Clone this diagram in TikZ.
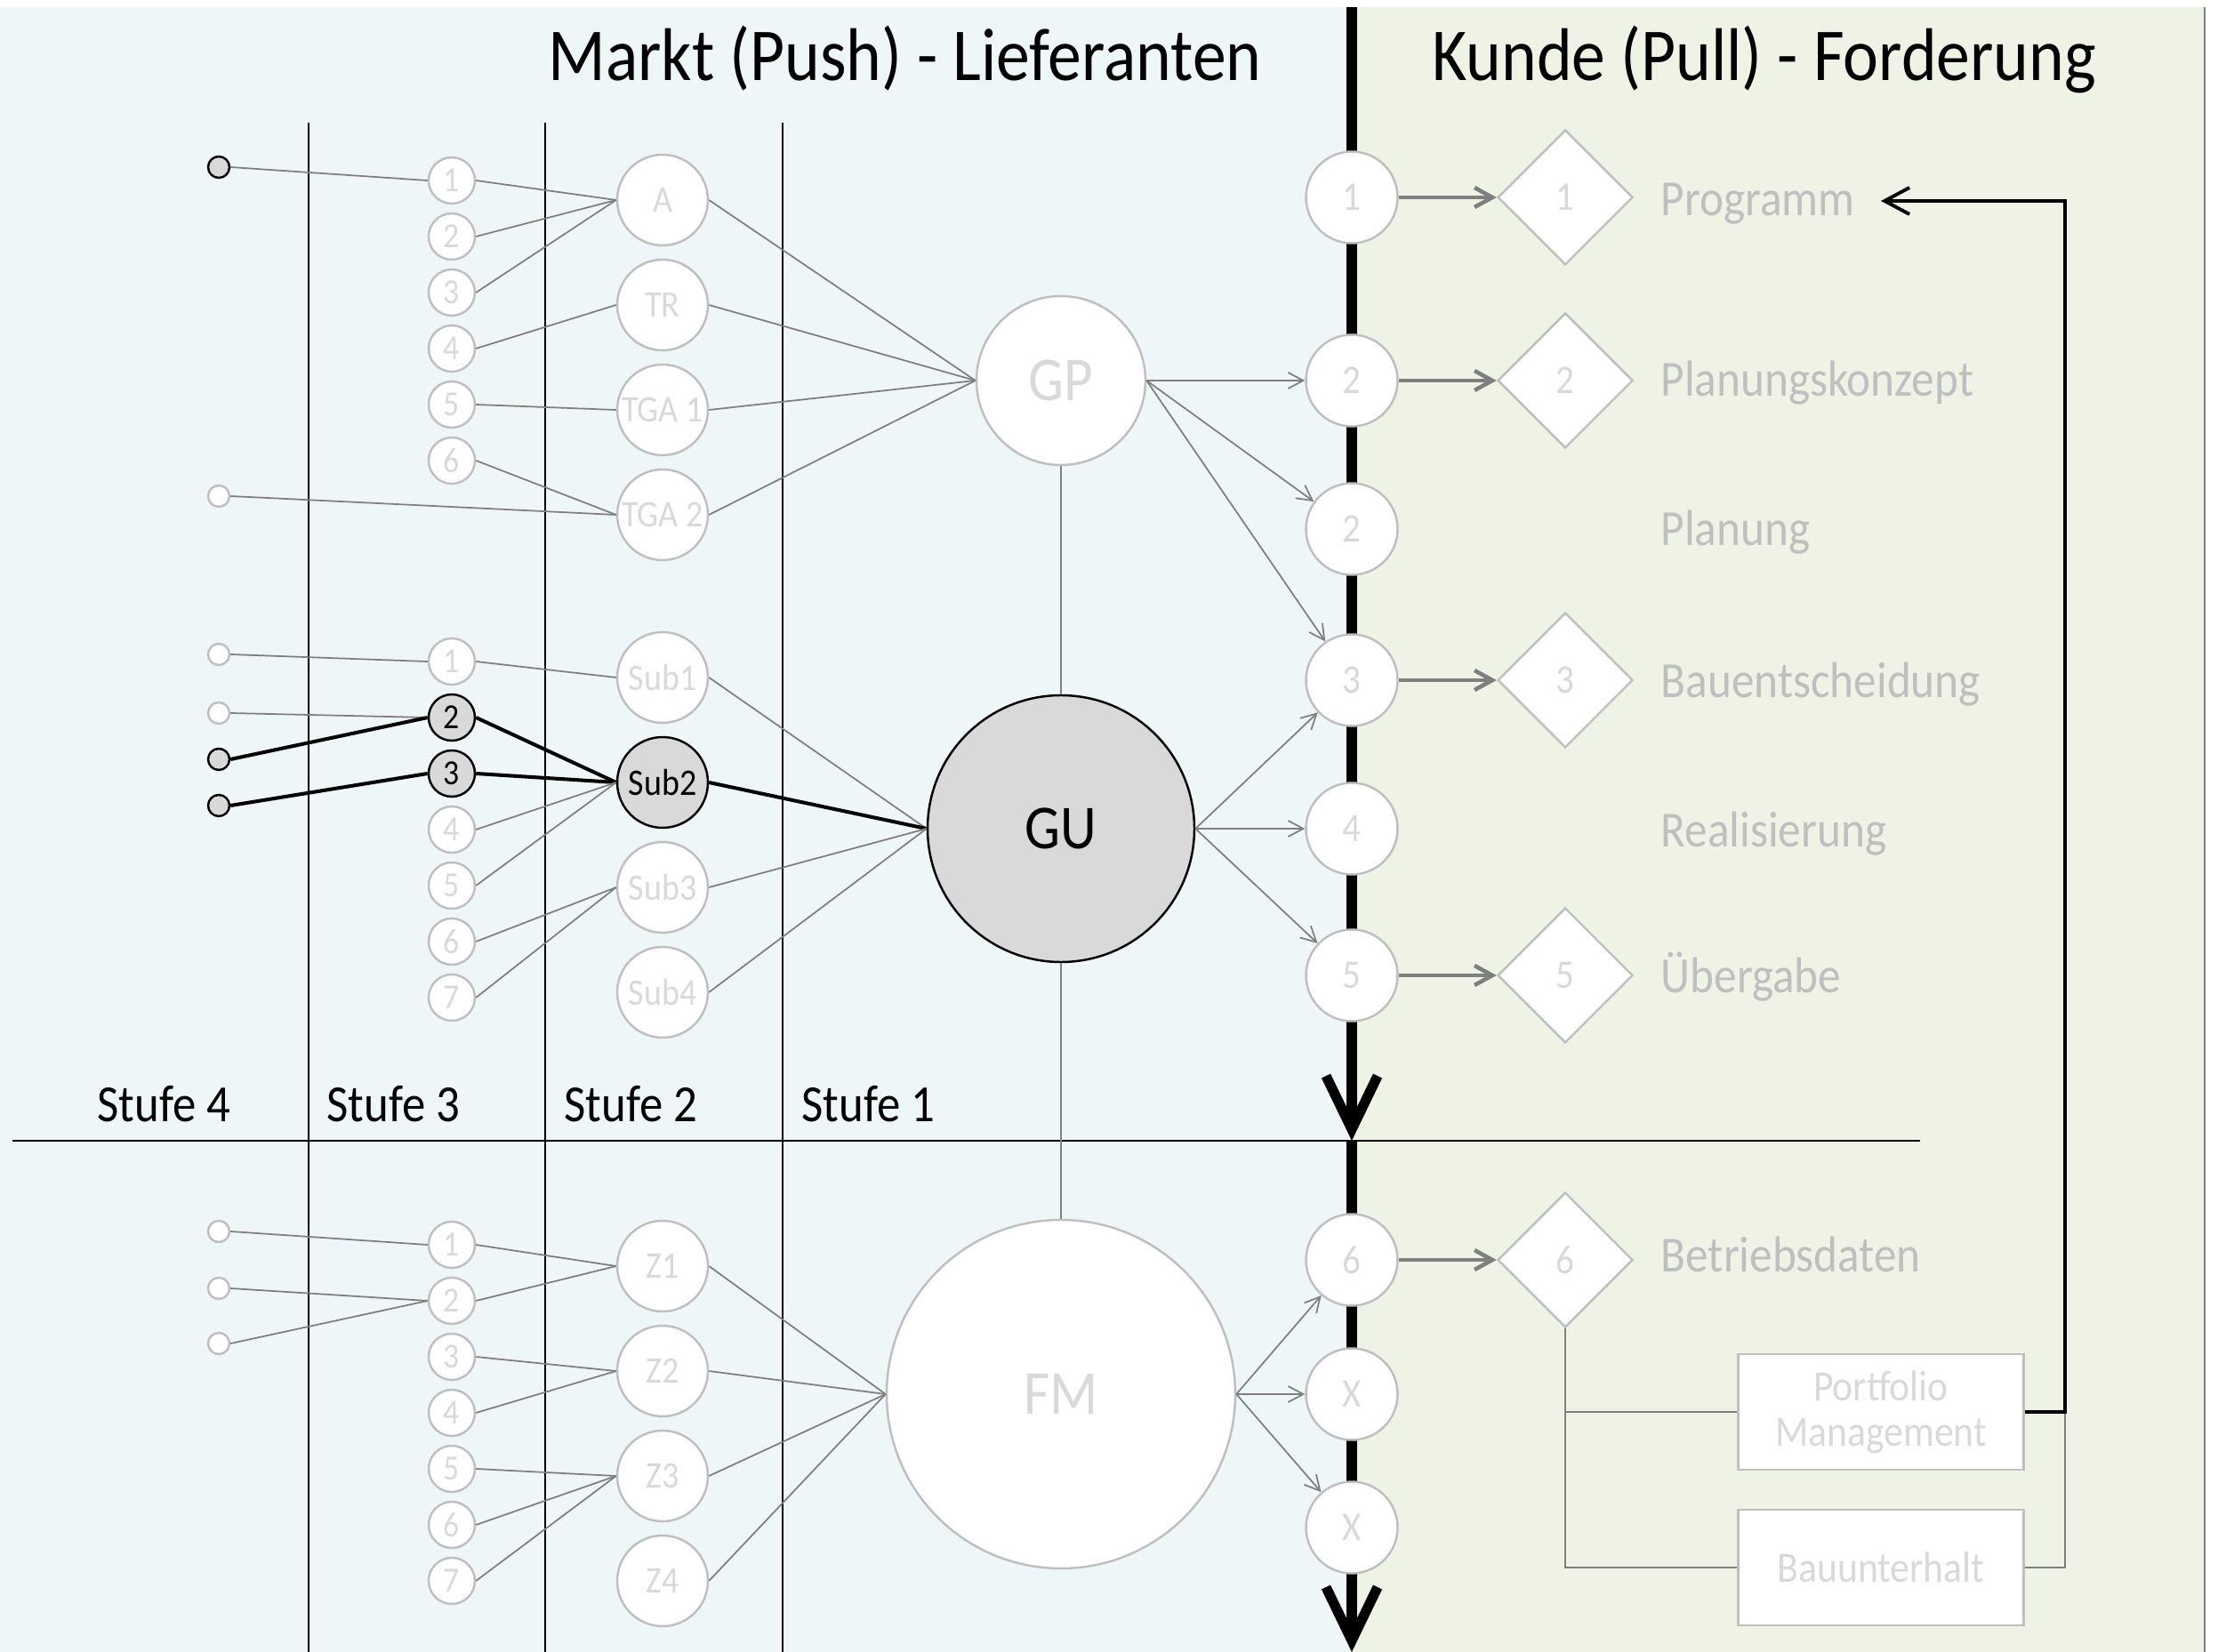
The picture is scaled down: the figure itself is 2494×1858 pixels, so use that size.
\documentclass[tikz,border=0pt]{standalone}
\usepackage{fontspec}
\setmainfont{Carlito}[FakeStretch=0.9]
\usetikzlibrary{arrows.meta}
\usetikzlibrary{shapes.geometric}
\definecolor{bgblue}{HTML}{EEF6F8}
\definecolor{bggreen}{HTML}{EFF3E6}
\definecolor{rimgrey}{HTML}{BFBFBF}
\definecolor{linegrey}{HTML}{7F7F7F}
\definecolor{textgrey}{HTML}{D9D9D9}
\definecolor{fillgrey}{HTML}{D9D9D9}
\tikzset{
	lightstyle/.style={circle, draw=rimgrey, line width=0.7pt, fill=white, text=textgrey, inner sep=0pt},
	darkstyle/.style={circle, draw=black, line width=0.7pt, fill=fillgrey, text=black, inner sep=0pt},
	diastyle/.style={diamond, draw=rimgrey, line width=0.7pt, fill=white, text=textgrey, inner sep=0pt,
		minimum width=15.2mm, minimum height=15.2mm, font=\fontsize{13}{15}\selectfont},
	boxstyle/.style={rectangle, draw=rimgrey, line width=0.8pt, fill=white, text=textgrey,
		minimum width=32.1mm, minimum height=13mm, align=center, font=\fontsize{13.8}{14.5}\selectfont},
	smallnum/.style={font=\fontsize{11.3}{13}\selectfont},
	midlabel/.style={font=\fontsize{12}{14}\selectfont},
	rightnum/.style={font=\fontsize{13}{15}\selectfont},
	biglabel/.style={font=\fontsize{20}{24}\selectfont},
	titlestyle/.style={inner sep=0pt, font=\fontsize{23.9}{28}\selectfont},
	stufestyle/.style={inner sep=0pt, font=\fontsize{16.7}{20}\selectfont},
	phasestyle/.style={inner sep=0pt, text=rimgrey, font=\fontsize{16.2}{19}\selectfont},
	greylink/.style={draw=linegrey, line width=0.5pt},
	blacklink/.style={draw=black, line width=1.15pt},
	flow/.style={draw=linegrey, line width=0.5pt, -{Straight Barb[length=1.7mm, width=1.8mm]}},
	thickflow/.style={draw=linegrey, line width=1.3pt, -{Straight Barb[length=2mm, width=2.2mm]}},
	axisline/.style={draw=black, line width=3.2pt, -{Straight Barb[length=6mm, width=5.8mm]}},
	feedback/.style={draw=black, line width=1.1pt, -{Straight Barb[length=2.8mm, width=3mm]}},
	stageline/.style={draw=black, line width=0.45pt}
}

\begin{document}
\begin{tikzpicture}[x=0.1mm, y=-0.1mm]

\def\xfour{246}
\def\xthree{508}
\def\xtwo{745}
\def\xone{1193}
\def\xaxis{1520}
\def\xdia{1760}
\def\xtext{1867}
\def\ydist{63}
\def\zdist{118}

\useasboundingbox (0, 0) rectangle (2494, 1858);

% Markt and Kunde areas
\fill[bgblue] (0, 8) rectangle (\xaxis, 1858);
\fill[bggreen] (\xaxis, 8) rectangle (2479, 1858);
\draw[linegrey, line width=0.4pt] (2479, 8) -- (2479, 1858);

\draw[stageline] (347, 138) -- (347, 1858);
\draw[stageline] (613, 138) -- (613, 1858);
\draw[stageline] (880, 138) -- (880, 1858);
\draw[line width=0.55pt] (14, 1283) -- (2159, 1283);

\coordinate (axtop) at (\xaxis, 8);
\coordinate (axmid) at (\xaxis, 1283);
\coordinate (axbot) at (\xaxis, 1858);
\draw[axisline] (axtop) -- (axmid);
\draw[axisline] (axmid) -- (axbot);

\node[titlestyle, anchor=base west] (markt) at (616, 91) {Markt (Push) - Lieferanten};
\node[titlestyle, anchor=base west] (kunde) at (1610, 91) {Kunde (Pull) - Forderung};

\node[stufestyle, anchor=base west] (st4) at (109, 1261) {Stufe 4};
\node[stufestyle, anchor=base west] (st3) at (367, 1261) {Stufe 3};
\node[stufestyle, anchor=base west] (st2) at (634, 1261) {Stufe 2};
\node[stufestyle, anchor=base west] (st1) at (901, 1261) {Stufe 1};

% Planer
\node[darkstyle, minimum size=2.4mm] (ta) at (\xfour, 188) {};
\node[lightstyle, minimum size=2.4mm] (tb) at (\xfour, 558) {};

\node[lightstyle, smallnum, minimum size=5.2mm] (a1) at (\xthree, 203 + 0 * \ydist) {1};
\node[lightstyle, smallnum, minimum size=5.2mm] (a2) at (\xthree, 203 + 1 * \ydist) {2};
\node[lightstyle, smallnum, minimum size=5.2mm] (a3) at (\xthree, 203 + 2 * \ydist) {3};
\node[lightstyle, smallnum, minimum size=5.2mm] (a4) at (\xthree, 203 + 3 * \ydist) {4};
\node[lightstyle, smallnum, minimum size=5.2mm] (a5) at (\xthree, 203 + 4 * \ydist) {5};
\node[lightstyle, smallnum, minimum size=5.2mm] (a6) at (\xthree, 203 + 5 * \ydist) {6};

\node[lightstyle, midlabel, minimum size=10.2mm] (arch) at (\xtwo, 225 + 0 * \zdist) {A};
\node[lightstyle, midlabel, minimum size=10.2mm] (tr)   at (\xtwo, 225 + 1 * \zdist) {TR};
\node[lightstyle, midlabel, minimum size=10.2mm] (tga1) at (\xtwo, 225 + 2 * \zdist) {TGA 1};
\node[lightstyle, midlabel, minimum size=10.2mm] (tga2) at (\xtwo, 225 + 3 * \zdist) {TGA 2};

\node[lightstyle, biglabel, minimum size=19mm] (gp) at (\xone, 428) {GP};

% Unternehmer
\node[lightstyle, minimum size=2.4mm] (tc) at (\xfour, 736) {};
\node[lightstyle, minimum size=2.4mm] (td) at (\xfour, 802) {};
\node[darkstyle, minimum size=2.4mm]  (te) at (\xfour, 854) {};
\node[darkstyle, minimum size=2.4mm]  (tf) at (\xfour, 906) {};

\node[lightstyle, smallnum, minimum size=5.2mm] (b1) at (\xthree, 744 + 0 * \ydist) {1};
\node[darkstyle, smallnum, minimum size=5.2mm]  (b2) at (\xthree, 744 + 1 * \ydist) {2};
\node[darkstyle, smallnum, minimum size=5.2mm]  (b3) at (\xthree, 744 + 2 * \ydist) {3};
\node[lightstyle, smallnum, minimum size=5.2mm] (b4) at (\xthree, 744 + 3 * \ydist) {4};
\node[lightstyle, smallnum, minimum size=5.2mm] (b5) at (\xthree, 744 + 4 * \ydist) {5};
\node[lightstyle, smallnum, minimum size=5.2mm] (b6) at (\xthree, 744 + 5 * \ydist) {6};
\node[lightstyle, smallnum, minimum size=5.2mm] (b7) at (\xthree, 744 + 6 * \ydist) {7};

\node[lightstyle, midlabel, minimum size=10.2mm] (sub1) at (\xtwo, 762 + 0 * \zdist) {Sub1};
\node[darkstyle, midlabel, minimum size=10.2mm]  (sub2) at (\xtwo, 762 + 1 * \zdist) {Sub2};
\node[lightstyle, midlabel, minimum size=10.2mm] (sub3) at (\xtwo, 762 + 2 * \zdist) {Sub3};
\node[lightstyle, midlabel, minimum size=10.2mm] (sub4) at (\xtwo, 762 + 3 * \zdist) {Sub4};

\node[darkstyle, biglabel, minimum size=30mm] (gu) at (\xone, 932) {GU};

% Betrieb
\node[lightstyle, minimum size=2.4mm] (tg) at (\xfour, 1385) {};
\node[lightstyle, minimum size=2.4mm] (th) at (\xfour, 1449) {};
\node[lightstyle, minimum size=2.4mm] (ti) at (\xfour, 1511) {};

\node[lightstyle, smallnum, minimum size=5.2mm] (c1) at (\xthree, 1400 + 0 * \ydist) {1};
\node[lightstyle, smallnum, minimum size=5.2mm] (c2) at (\xthree, 1400 + 1 * \ydist) {2};
\node[lightstyle, smallnum, minimum size=5.2mm] (c3) at (\xthree, 1400 + 2 * \ydist) {3};
\node[lightstyle, smallnum, minimum size=5.2mm] (c4) at (\xthree, 1400 + 3 * \ydist) {4};
\node[lightstyle, smallnum, minimum size=5.2mm] (c5) at (\xthree, 1400 + 4 * \ydist) {5};
\node[lightstyle, smallnum, minimum size=5.2mm] (c6) at (\xthree, 1400 + 5 * \ydist) {6};
\node[lightstyle, smallnum, minimum size=5.2mm] (c7) at (\xthree, 1400 + 6 * \ydist) {7};

\node[lightstyle, midlabel, minimum size=10.2mm] (z1) at (\xtwo, 1424 + 0 * \zdist) {Z1};
\node[lightstyle, midlabel, minimum size=10.2mm] (z2) at (\xtwo, 1424 + 1 * \zdist) {Z2};
\node[lightstyle, midlabel, minimum size=10.2mm] (z3) at (\xtwo, 1424 + 2 * \zdist) {Z3};
\node[lightstyle, midlabel, minimum size=10.2mm] (z4) at (\xtwo, 1424 + 3 * \zdist) {Z4};

\node[lightstyle, biglabel, minimum size=39.2mm] (fm) at (\xone, 1568) {FM};

% Kunde
\node[lightstyle, rightnum, minimum size=10.3mm] (k1)  at (\xaxis, 222)  {1};
\node[lightstyle, rightnum, minimum size=10.3mm] (k2)  at (\xaxis, 428)  {2};
\node[lightstyle, rightnum, minimum size=10.3mm] (k2b) at (\xaxis, 595)  {2};
\node[lightstyle, rightnum, minimum size=10.3mm] (k3)  at (\xaxis, 765)  {3};
\node[lightstyle, rightnum, minimum size=10.3mm] (k4)  at (\xaxis, 932)  {4};
\node[lightstyle, rightnum, minimum size=10.3mm] (k5)  at (\xaxis, 1097) {5};
\node[lightstyle, rightnum, minimum size=10.3mm] (k6)  at (\xaxis, 1417) {6};
\node[lightstyle, rightnum, minimum size=10.3mm] (kx1) at (\xaxis, 1568) {X};
\node[lightstyle, rightnum, minimum size=10.3mm] (kx2) at (\xaxis, 1718) {X};

\node[diastyle] (d1) at (\xdia, 222)  {1};
\node[diastyle] (d2) at (\xdia, 428)  {2};
\node[diastyle] (d3) at (\xdia, 765)  {3};
\node[diastyle] (d5) at (\xdia, 1097) {5};
\node[diastyle] (d6) at (\xdia, 1417) {6};

\node[phasestyle, anchor=base west] (prog) at (\xtext, 243)  {Programm};
\node[phasestyle, anchor=base west] (konz) at (\xtext, 446)  {Planungskonzept};
\node[phasestyle, anchor=base west] (plan) at (\xtext, 614)  {Planung};
\node[phasestyle, anchor=base west] (baue) at (\xtext, 785)  {Bauentscheidung};
\node[phasestyle, anchor=base west] (real) at (\xtext, 952)  {Realisierung};
\node[phasestyle, anchor=base west] (uebg) at (\xtext, 1116) {Übergabe};
\node[phasestyle, anchor=base west] (betr) at (\xtext, 1430) {Betriebsdaten};

\node[boxstyle] (pm) at (2115, 1588) {Portfolio\\Management};
\node[boxstyle] (bu) at (2115, 1763) {Bauunterhalt};

\coordinate (fbx) at (2322, 226);
\coordinate (fbend) at (2115, 226);

\draw[greylink] (ta.east)--(a1.west);
\draw[greylink] (a1.east)--(arch.west);
\draw[greylink] (a2.east)--(arch.west);
\draw[greylink] (a3.east)--(arch.west);
\draw[greylink] (a4.east)--(tr.west);
\draw[greylink] (a5.east)--(tga1.west);
\draw[greylink] (a6.east)--(tga2.west);
\draw[greylink] (tb.east)--(tga2.west);
\draw[greylink] (arch.east)--(gp.west);
\draw[greylink] (tr.east)--(gp.west);
\draw[greylink] (tga1.east)--(gp.west);
\draw[greylink] (tga2.east)--(gp.west);

\draw[greylink] (tc.east)--(b1.west);
\draw[greylink] (td.east)--(b2.west);
\draw[blacklink] (te.east)--(b2.west);
\draw[blacklink] (tf.east)--(b3.west);
\draw[greylink] (b1.east)--(sub1.west);
\draw[blacklink] (b2.east)--(sub2.west);
\draw[blacklink] (b3.east)--(sub2.west);
\draw[greylink] (b4.east)--(sub2.west);
\draw[greylink] (b5.east)--(sub2.west);
\draw[greylink] (b6.east)--(sub3.west);
\draw[greylink] (b7.east)--(sub3.west);
\draw[greylink] (sub1.east)--(gu.west);
\draw[blacklink] (sub2.east)--(gu.west);
\draw[greylink] (sub3.east)--(gu.west);
\draw[greylink] (sub4.east)--(gu.west);

\draw[greylink] (tg.east)--(c1.west);
\draw[greylink] (th.east)--(c2.west);
\draw[greylink] (ti.east)--(c2.west);
\draw[greylink] (c1.east)--(z1.west);
\draw[greylink] (c2.east)--(z1.west);
\draw[greylink] (c3.east)--(z2.west);
\draw[greylink] (c4.east)--(z2.west);
\draw[greylink] (c5.east)--(z3.west);
\draw[greylink] (c6.east)--(z3.west);
\draw[greylink] (c7.east)--(z3.west);
\draw[greylink] (z1.east)--(fm.west);
\draw[greylink] (z2.east)--(fm.west);
\draw[greylink] (z3.east)--(fm.west);
\draw[greylink] (z4.east)--(fm.west);

\draw[greylink] (gp.south)--(gu.north);
\draw[greylink] (gu.south)--(fm.north);

\draw[flow] (gp.east)--(k2);
\draw[flow] (gp.east)--(k2b);
\draw[flow] (gp.east)--(k3);
\draw[flow] (gu.east)--(k3);
\draw[flow] (gu.east)--(k4);
\draw[flow] (gu.east)--(k5);
\draw[flow] (fm.east)--(k6);
\draw[flow] (fm.east)--(kx1);
\draw[flow] (fm.east)--(kx2);

\draw[thickflow] (k1.east)--(d1.west);
\draw[thickflow] (k2.east)--(d2.west);
\draw[thickflow] (k3.east)--(d3.west);
\draw[thickflow] (k5.east)--(d5.west);
\draw[thickflow] (k6.east)--(d6.west);

\draw[greylink] (d6.south) |- (bu.west);
\draw[greylink] (d6.south |- pm.west)--(pm.west);
\draw[greylink] (bu.east) -| (fbx |- pm.east);
\draw[feedback] (pm.east) -| (fbx)--(fbend);
\end{tikzpicture}
\end{document}
